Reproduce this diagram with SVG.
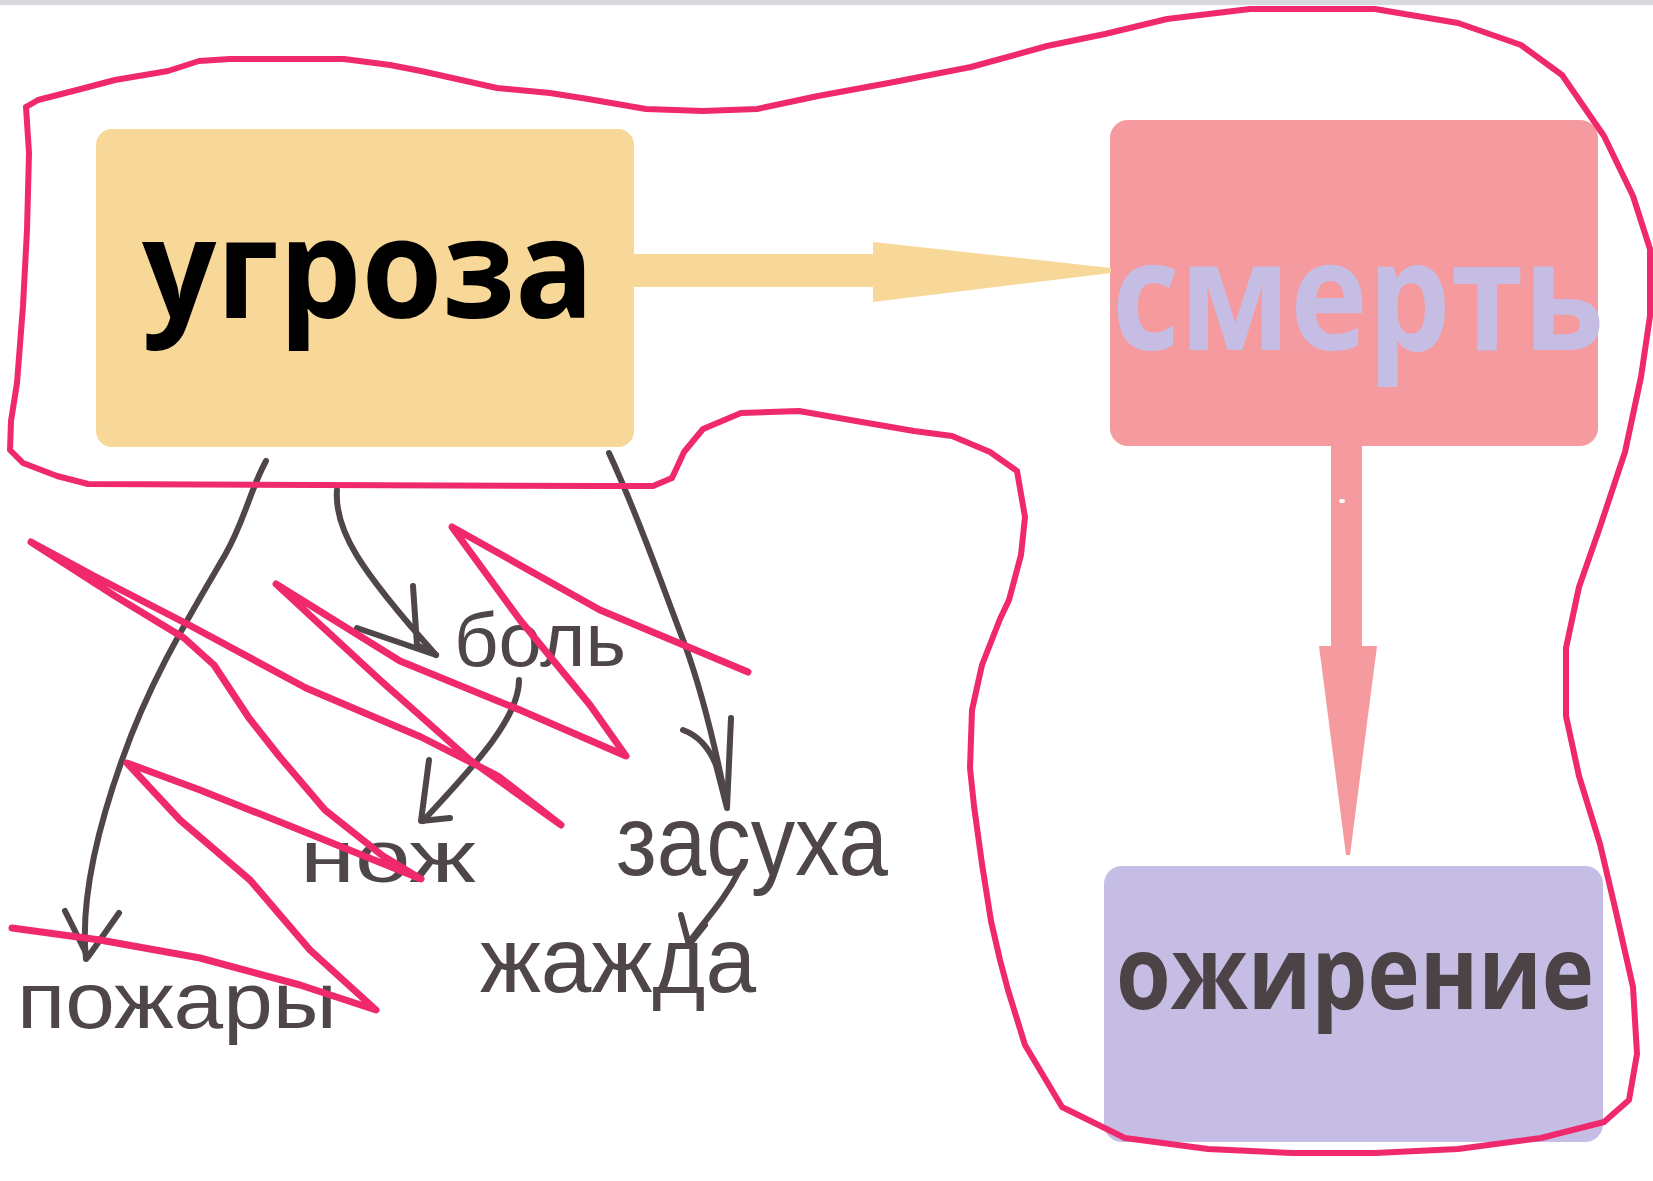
<svg xmlns="http://www.w3.org/2000/svg" width="1653" height="1181" viewBox="0 0 1653 1181">
<style>
.box-text{font-family:"Open Sans","DejaVu Sans",sans-serif;font-weight:bold}
.hand{font-family:"Liberation Sans","DejaVu Sans",sans-serif;fill:#4E4648}
.gray{fill:none;stroke:#4E4648;stroke-width:6;stroke-linecap:round;stroke-linejoin:round}
.pink{fill:none;stroke:#F0286E;stroke-width:6;stroke-linecap:round;stroke-linejoin:round}
.scrib{fill:none;stroke:#F0286E;stroke-width:7;stroke-linecap:round;stroke-linejoin:round}
</style>
<rect x="0" y="0" width="1653" height="1181" fill="#FFFFFF"/>
<rect x="0" y="0" width="1653" height="5" fill="#D7D9DD"/>

<g id="node-ugroza">
<rect x="96" y="129" width="538" height="318" rx="16" fill="#F7D899"/>
<text class="box-text" x="142" y="318" font-size="138" fill="#000000" textLength="452" lengthAdjust="spacingAndGlyphs">угроза</text>
</g>

<g id="node-smert">
<rect x="1110" y="120" width="488" height="326" rx="18" fill="#F59B9F"/>
<text class="box-text" x="1112" y="350" font-size="152" fill="#C5BDE4" textLength="492" lengthAdjust="spacingAndGlyphs">смерть</text>
</g>

<g id="node-ozhirenie">
<rect x="1104" y="866" width="499" height="276" rx="18" fill="#C5BDE4"/>
<text class="box-text" x="1116" y="1009" font-size="103" fill="#4B4345" textLength="478" lengthAdjust="spacingAndGlyphs">ожирение</text>
</g>

<g id="connectors">
<polygon points="634,254 873,254 873,242 1111,268 1111,273 873,302 873,287 634,287" fill="#F7D899"/>
<polygon points="1331,446 1362,446 1362,646 1377,646 1350,855 1346,855 1319,646 1331,646" fill="#F59B9F"/>
<ellipse cx="1342" cy="501" rx="3" ry="2" fill="#FFFFFF"/>

<path class="gray" d="M266,461 C250,490 245,520 225,555 C190,615 150,680 122,760 C97,830 80,900 86,959"/>
<polyline class="gray" points="65,911 88,957 119,913"/>

<path class="gray" d="M337,490 C334,530 360,570 436,655"/>
<polyline class="gray" points="413,586 417,645 436,655 357,628"/>

<path class="gray" d="M519,680 C519,720 470,770 423,821"/>
<polyline class="gray" points="429,760 421,821 450,818"/>

<path class="gray" d="M609,453 C640,520 660,580 685,645 C705,700 718,760 727,806"/>
<path class="gray" d="M683,730 Q705,738 716,765 L727,808 M731,718 L727,808" stroke-width="7"/>

<path class="gray" d="M739,871 C725,900 705,920 691,940"/>
<polyline class="gray" points="681,915 689,945 705,925"/>
</g>

<g id="labels">
<text class="hand" x="17" y="1028" font-size="80" textLength="320" lengthAdjust="spacingAndGlyphs">пожары</text>
<text class="hand" x="454" y="666" font-size="76" textLength="172" lengthAdjust="spacingAndGlyphs">боль</text>
<text class="hand" x="300" y="882" font-size="74" textLength="176" lengthAdjust="spacingAndGlyphs">нож</text>
<text class="hand" x="616" y="875" font-size="100" textLength="272" lengthAdjust="spacingAndGlyphs">засуха</text>
<text class="hand" x="480" y="992" font-size="92" textLength="276" lengthAdjust="spacingAndGlyphs">жажда</text>
</g>

<g id="outline">
<polyline class="pink" points="26,107 38,100 77,90 115,80 168,71 199,61 230,59 344,59 390,65 421,71 497,88 550,93 588,99 646,109 703,111 757,109 818,96 894,82 971,67 1047,46 1105,34 1167,19 1250,9 1375,9 1458,23 1521,45 1562,75 1604,136 1633,196 1650,249 1650,316 1641,377 1625,452 1600,527 1579,587 1566,648 1566,716 1579,776 1600,844 1616,912 1633,987 1637,1054 1629,1100 1604,1122 1541,1138 1458,1149 1375,1153 1292,1153 1208,1149 1125,1138 1062,1107 1025,1045 1008,990 1000,960 991,921 982,864 974,806 970,768 972,710 982,665 1000,619 1009,600 1021,555 1025,517 1017,471 990,452 952,436 914,431 856,421 799,411 741,413 703,429 684,452 672,478 653,486 600,486 88,484 57,476 23,463 10,450 11,421 17,383 23,306 27,230 29,153 26,107"/>
</g>

<g id="scribbles">
<polyline class="scrib" points="748,672 600,610 452,527 520,620 590,705 626,756 520,710 400,661 276,584 380,680 470,760 561,825 498,776 421,737 306,688 191,626 96,577 31,542 115,596 184,638 214,665 249,718 279,756 325,810 383,856 421,879 300,830 200,790 127,763 180,820 250,880 310,950 376,1010 300,985 200,958 100,940 12,928"/>
</g>
</svg>
